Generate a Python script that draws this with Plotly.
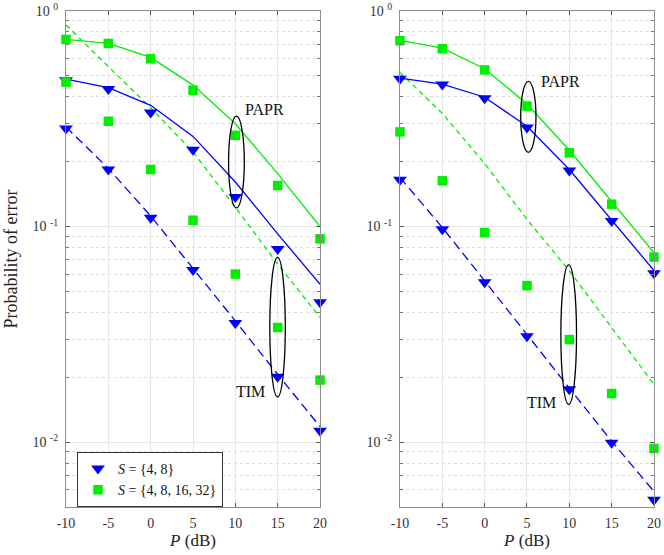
import plotly.graph_objects as go

# SNR axis (dB)
P = [-10, -5, 0, 5, 10, 15, 20]

# ---- left panel ----
a_papr_s1_line = [0.483, 0.441, 0.365, 0.262, 0.161, 0.0925, 0.054]
a_papr_s1_sim = [0.477, 0.435, 0.338, 0.227, 0.137, 0.0787, 0.0445]
a_tim_s1_line = [0.29, 0.186, 0.112, 0.064, 0.0365, 0.0206, 0.0118]
a_tim_s1_sim = [0.285, 0.184, 0.110, 0.0629, 0.0357, 0.0201, 0.0113]
a_papr_s2_line = [0.738, 0.707, 0.609, 0.453, 0.30, 0.176, 0.100]
a_papr_s2_sim = [0.738, 0.707, 0.600, 0.429, 0.265, 0.155, 0.0877]
a_tim_s2_line = [0.861, 0.555, 0.355, 0.222, 0.123, 0.067, 0.0379]
a_tim_s2_sim = [0.468, 0.308, 0.184, 0.107, 0.0602, 0.034, 0.0194]

# ---- right panel ----
b_papr_s1_line = [0.488, 0.458, 0.398, 0.292, 0.184, 0.107, 0.0625]
b_papr_s1_sim = [0.485, 0.456, 0.394, 0.288, 0.182, 0.106, 0.0607]
b_tim_s1_line = [0.169, 0.099, 0.056, 0.0315, 0.0178, 0.0101, 0.0059]
b_tim_s1_sim = [0.165, 0.0972, 0.0551, 0.031, 0.0176, 0.00993, 0.0054]
b_papr_s2_line = [0.730, 0.672, 0.540, 0.370, 0.226, 0.131, 0.0755]
b_papr_s2_sim = [0.728, 0.668, 0.533, 0.362, 0.220, 0.127, 0.0722]
b_tim_s2_line = [0.519, 0.335, 0.196, 0.108, 0.0624, 0.034, 0.0185]
b_tim_s2_sim = [0.275, 0.163, 0.0938, 0.0532, 0.0299, 0.0168, 0.00935]

x_ticks = [-10, -5, 0, 5, 10, 15, 20]
x_ticktext = ["-10", "-5", "0", "5", "10", "15", "20"]
y_ticks = [0.01, 0.1, 1]
y_ticktext = ["10 <sup>-2</sup>", "10 <sup>-1</sup>", "10 <sup>0</sup>"]

BLUE = "#0000FF"
GREEN = "#00EE00"
FONT = "Liberation Serif, Times New Roman, serif"

fig = go.Figure()


def add_panel(xa, ya, papr1, sim1, tim1, simt1, papr2, sim2, tim2, simt2, show):
    # analytic curves
    fig.add_trace(go.Scatter(x=P, y=papr2, mode="lines", line=dict(color=GREEN, width=1.3),
                             xaxis=xa, yaxis=ya, showlegend=False))
    fig.add_trace(go.Scatter(x=P, y=tim2, mode="lines", line=dict(color=GREEN, width=1.3, dash="5px,4px"),
                             xaxis=xa, yaxis=ya, showlegend=False))
    fig.add_trace(go.Scatter(x=P, y=papr1, mode="lines", line=dict(color=BLUE, width=1.3),
                             xaxis=xa, yaxis=ya, showlegend=False))
    fig.add_trace(go.Scatter(x=P, y=tim1, mode="lines", line=dict(color=BLUE, width=1.3, dash="9px,5px"),
                             xaxis=xa, yaxis=ya, showlegend=False))
    # simulated points
    fig.add_trace(go.Scatter(x=P + P, y=sim1 + simt1, mode="markers", cliponaxis=False,
                             marker=dict(symbol="triangle-down", size=12, color=BLUE),
                             name="<i>S</i> = {4, 8}", xaxis=xa, yaxis=ya, showlegend=show))
    fig.add_trace(go.Scatter(x=P + P, y=sim2 + simt2, mode="markers", cliponaxis=False,
                             marker=dict(symbol="square", size=9.5, color=GREEN),
                             name="<i>S</i> = {4, 8, 16, 32}", xaxis=xa, yaxis=ya, showlegend=show))


add_panel("x", "y", a_papr_s1_line, a_papr_s1_sim, a_tim_s1_line, a_tim_s1_sim,
          a_papr_s2_line, a_papr_s2_sim, a_tim_s2_line, a_tim_s2_sim, True)
add_panel("x2", "y2", b_papr_s1_line, b_papr_s1_sim, b_tim_s1_line, b_tim_s1_sim,
          b_papr_s2_line, b_papr_s2_sim, b_tim_s2_line, b_tim_s2_sim, False)

minor_vals = [m * 10 ** e for e in (-3, -2, -1) for m in range(2, 10)]

xcommon = dict(range=[-10, 20], tickvals=x_ticks, ticktext=x_ticktext, ticks="inside", ticklen=4,
               mirror="ticks", showline=True, linecolor="#8c8c8c", linewidth=1.2, tickcolor="#555",
               showgrid=True, gridcolor="#e6e6e6", zeroline=False, automargin=False,
               ticklabelstandoff=3,
               tickfont=dict(family=FONT, size=14, color="#333"),
               title=dict(text="<i>P</i> (dB)", font=dict(family=FONT, size=17, color="#222"), standoff=4))
ycommon = dict(type="log", range=[-2.301, 0], tickvals=y_ticks, ticktext=y_ticktext,
               ticks="inside", ticklen=4, mirror="ticks", showline=True, linecolor="#8c8c8c",
               linewidth=1.2, tickcolor="#555", showgrid=True, gridcolor="#e6e6e6", zeroline=False,
               automargin=False, ticklabelstandoff=4,
               tickfont=dict(family=FONT, size=14, color="#333"),
               minor=dict(tickvals=minor_vals, ticks="inside", ticklen=3, tickcolor="#777",
                          showgrid=True, gridcolor="#dedede", griddash="dot", gridwidth=1))

fig.update_layout(
    width=664, height=555,
    margin=dict(l=66, r=10, t=11, b=48),
    plot_bgcolor="white", paper_bgcolor="white",
    font=dict(family=FONT, color="#222"),
    xaxis=dict(domain=[0.0, 0.432], anchor="y", **xcommon),
    xaxis2=dict(domain=[0.568, 1.0], anchor="y2", **xcommon),
    yaxis=dict(domain=[0.0, 1.0], anchor="x",
               title=dict(text="Probability of error", font=dict(family=FONT, size=18, color="#222"),
                          standoff=10), **ycommon),
    yaxis2=dict(domain=[0.0, 1.0], anchor="x2", **ycommon),
    legend=dict(x=0.0187, y=0.111, xanchor="left", yanchor="top",
                bgcolor="white", bordercolor="#333", borderwidth=1,
                font=dict(family=FONT, size=14, color="#111"), tracegroupgap=0),
)

# ellipses grouping PAPR and TIM curves
ellipses = [
    ("x", "y", 9.2, 11.06, 0.122, 0.325),
    ("x", "y", 14.07, 15.9, 0.0162, 0.0719),
    ("x2", "y2", 4.26, 6.06, 0.221, 0.472),
    ("x2", "y2", 9.0, 10.85, 0.01496, 0.0664),
]
for xr, yr, x0, x1, y0, y1 in ellipses:
    fig.add_shape(type="circle", xref=xr, yref=yr, x0=x0, x1=x1, y0=y0, y1=y1,
                  line=dict(color="black", width=1.3))

labels = [
    ("x", "y", 13.5, -0.456, "PAPR"),
    ("x", "y", 11.8, -1.763, "TIM"),
    ("x2", "y2", 9.0, -0.329, "PAPR"),
    ("x2", "y2", 6.74, -1.817, "TIM"),
]
for xr, yr, xv, yv, txt in labels:
    fig.add_annotation(xref=xr, yref=yr, x=xv, y=yv, text=txt, showarrow=False,
                       font=dict(family=FONT, size=16, color="#111"))

# drop the default page margin so the 664x555 figure fills the window exactly
fig.write_html("out.html", config={"displayModeBar": False},
               post_script="document.body.style.margin='0';")
